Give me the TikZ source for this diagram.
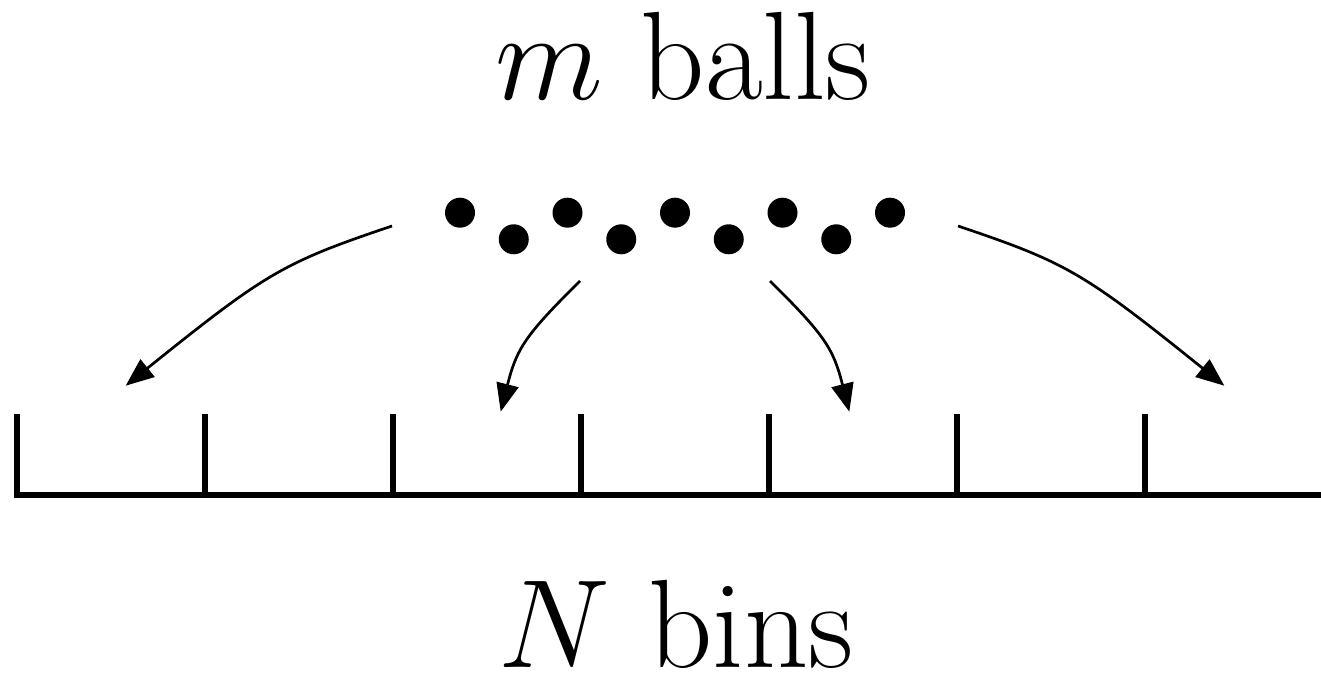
\documentclass[tikz,border=0pt]{standalone}
\usepackage{graphicx}
\usepackage{tikz}
\usetikzlibrary{arrows.meta,positioning}

\tikzset{
  ball/.style={circle, fill=black, inner sep=0pt, minimum size=1.8mm},
  binline/.style={line width=1pt, line cap=butt},
  throw/.style={line width=0.46pt, -{Triangle[length=4.8pt, width=3.8pt]}},
  label/.style={font=\huge, anchor=base, inner sep=0pt}
}

\begin{document}
\begin{tikzpicture}[x=0.06mm, y=-0.06mm]
  % Frame
  \useasboundingbox (0,0) rectangle (1321,677);

  % Labels
  \node[label] (balls) at (683,100) {\scalebox{1.035}{$m$ balls}};
  \node[label] (bins) at (676,667) {\scalebox{1.035}{$N$ bins}};

  % Balls, zig-zag row
  \foreach \i in {1,...,9} {
    \pgfmathsetmacro{\bx}{460+53.75*(\i-1)}
    \pgfmathsetmacro{\by}{isodd(\i) ? 212.7 : 239.3}
    \node[ball] (ball\i) at (\bx,\by) {};
  }

  % Bins: base line with ticks
  \draw[binline, line join=miter] (17,414) |- (1321,494.7);
  \foreach \k in {1,...,6}
    \draw[binline] (16.7+188.1*\k,414) -- (16.7+188.1*\k,494.7);

  % Arrow ends
  \coordinate (s1) at (392,226);   \coordinate (t1) at (125.7,385.7);
  \coordinate (s2) at (580,281);   \coordinate (t2) at (500.7,411.7);
  \coordinate (s3) at (770,281);   \coordinate (t3) at (849.3,411.7);
  \coordinate (s4) at (958,226);   \coordinate (t4) at (1224.3,385.7);

  % Throws
  \draw[throw] (s1) .. controls (282.8,262.8) and (266.4,272.6) .. (t1);
  \draw[throw] (s2) .. controls (524.6,335.7) and (516.6,348.9) .. (t2);
  \draw[throw] (s3) .. controls (825.4,335.7) and (833.4,348.9) .. (t3);
  \draw[throw] (s4) .. controls (1067.2,262.8) and (1083.6,272.6) .. (t4);
\end{tikzpicture}
\end{document}
